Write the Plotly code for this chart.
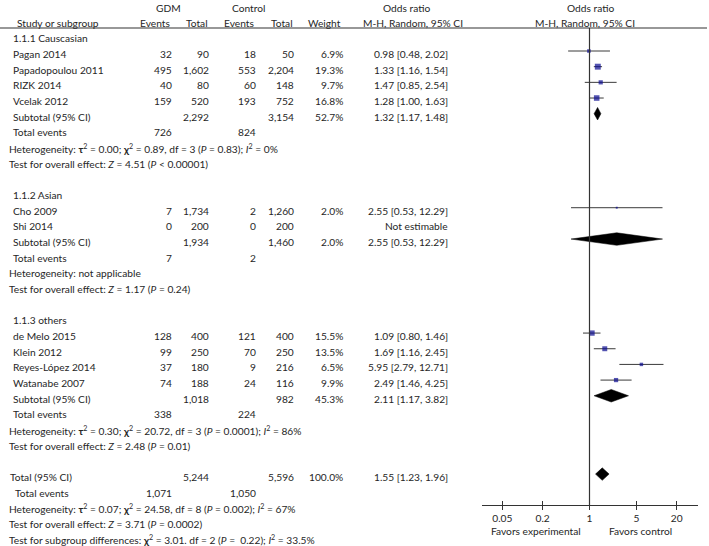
import math
import plotly.graph_objects as go

W, H = 709, 546

# ---------------- data ----------------
group_labels = ["1.1.1 Causcasian", "1.1.2 Asian", "1.1.3 others"]
study_group = [0, 0, 0, 0, 1, 1, 2, 2, 2, 2]
studies = ["Pagan 2014", "Papadopoulou 2011", "RIZK 2014", "Vcelak 2012",
           "Cho 2009", "Shi 2014",
           "de Melo 2015", "Klein 2012", "Reyes-López 2014", "Watanabe 2007"]
gdm_events = [32, 495, 40, 159, 7, 0, 128, 99, 37, 74]
gdm_total = [90, 1602, 80, 520, 1734, 200, 400, 250, 180, 188]
ctl_events = [18, 553, 60, 193, 2, 0, 121, 70, 9, 24]
ctl_total = [50, 2204, 148, 752, 1260, 200, 400, 250, 216, 116]
weight = [6.9, 19.3, 9.7, 16.8, 2.0, None, 15.5, 13.5, 6.5, 9.9]
odds = [0.98, 1.33, 1.47, 1.28, 2.55, None, 1.09, 1.69, 5.95, 2.49]
ci_low = [0.48, 1.16, 0.85, 1.00, 0.53, None, 0.80, 1.16, 2.79, 1.46]
ci_high = [2.02, 1.54, 2.54, 1.63, 12.29, None, 1.46, 2.45, 12.71, 4.25]

sub_gdm_total = [2292, 1934, 1018]
sub_ctl_total = [3154, 1460, 982]
sub_weight = [52.7, 2.0, 45.3]
sub_or = [1.32, 2.55, 2.11]
sub_low = [1.17, 0.53, 1.17]
sub_high = [1.48, 12.29, 3.82]
sub_gdm_events = [726, 7, 338]
sub_ctl_events = [824, 2, 224]
sub_het = [
    "Heterogeneity: <b>τ</b><sup>2</sup> = 0.00; <b>χ</b><sup>2</sup> = 0.89, df = 3 (<i>P</i> = 0.83); <i>I</i><sup>2</sup> = 0%",
    "Heterogeneity: not applicable",
    "Heterogeneity: <b>τ</b><sup>2</sup> = 0.30; <b>χ</b><sup>2</sup> = 20.72, df = 3 (<i>P</i> = 0.0001); <i>I</i><sup>2</sup> = 86%",
]
sub_test = [
    "Test for overall effect: <i>Z</i> = 4.51 (<i>P</i> &lt; 0.00001)",
    "Test for overall effect: <i>Z</i> = 1.17 (<i>P</i> = 0.24)",
    "Test for overall effect: <i>Z</i> = 2.48 (<i>P</i> = 0.01)",
]

tot_gdm_total, tot_ctl_total, tot_weight = 5244, 5596, 100.0
tot_or, tot_low, tot_high = 1.55, 1.23, 1.96
tot_gdm_events, tot_ctl_events = 1071, 1050
tot_het = "Heterogeneity: <b>τ</b><sup>2</sup> = 0.07; <b>χ</b><sup>2</sup> = 24.58, df = 8 (<i>P</i> = 0.002); <i>I</i><sup>2</sup> = 67%"
tot_test = "Test for overall effect: <i>Z</i> = 3.71 (<i>P</i> = 0.0002)"
tot_sub = "Test for subgroup differences: <b>χ</b><sup>2</sup> = 3.01. df = 2 (<i>P</i> =  0.22); <i>I</i><sup>2</sup> = 33.5%"

tick_vals = [0.05, 0.2, 1, 5, 20]
tick_text = ["0.05", "0.2", "1", "5", "20"]

# ---------------- layout helpers ----------------
ROW0, ROWH = 19.67, 15.67          # pixel of row 0, pixel height of a row
TEXT_DY = 3.0 / ROWH               # body text sits a little below the marks


def prow(p):
    return (p - ROW0) / ROWH


X_NAME, X_GE, X_GT, X_CE, X_CT, X_W, X_OR = 11, 174, 211, 258, 296, 345, 450
X_FOOT = 7
TXT = "#262626"
FONT = "Lato"
FS = 10.2

ann = []


def txt(x, r, s, anchor="left", size=FS, dy=TEXT_DY):
    ann.append(dict(x=x, y=r + dy, xref="x", yref="y", text=s, showarrow=False,
                    xanchor=anchor, yanchor="middle",
                    font=dict(family=FONT, size=size, color=TXT)))


def fmt(n):
    return f"{n:,}"


def fmt_or(o, l, h):
    return f"{o:.2f} [{l:.2f}, {h:.2f}]"


# headers
txt(168, prow(8), "GDM", "center", dy=0)
txt(248, prow(8), "Control", "center", dy=0)
txt(406, prow(8), "Odds ratio", "center", dy=0)
txt(590, prow(8), "Odds ratio", "center", dy=0)
hy = prow(22.5)
txt(58, hy, "Study or subgroup", "center", dy=0)
txt(155, hy, "Events", "center", dy=0)
txt(197, hy, "Total", "center", dy=0)
txt(239, hy, "Events", "center", dy=0)
txt(282, hy, "Total", "center", dy=0)
txt(324.5, hy, "Weight", "center", dy=0)
txt(413, hy, "M-H, Random, 95% CI", "center", dy=0)
txt(585, hy, "M-H, Random, 95% CI", "center", dy=0)

ci_x, ci_y = [], []
sq_x, sq_y, sq_s = [], [], []
diamonds = []

r = 1
for g, glabel in enumerate(group_labels):
    txt(X_NAME, r, glabel)
    r += 1
    for i, s in enumerate(studies):
        if study_group[i] != g:
            continue
        txt(X_NAME, r, s)
        txt(X_GE, r, fmt(gdm_events[i]), "right")
        txt(X_GT, r, fmt(gdm_total[i]), "right")
        txt(X_CE, r, fmt(ctl_events[i]), "right")
        txt(X_CT, r, fmt(ctl_total[i]), "right")
        if odds[i] is None:
            txt(X_OR, r, "Not estimable", "right")
        else:
            txt(X_W, r, f"{weight[i]:.1f}%", "right")
            txt(X_OR, r, fmt_or(odds[i], ci_low[i], ci_high[i]), "right")
            ci_x += [ci_low[i], ci_high[i], None]
            ci_y += [r, r, None]
            sq_x.append(odds[i]); sq_y.append(r)
            sq_s.append(1.35 * math.sqrt(weight[i]))
        r += 1
    txt(X_NAME, r, "Subtotal (95% CI)")
    txt(X_GT, r, fmt(sub_gdm_total[g]), "right")
    txt(X_CT, r, fmt(sub_ctl_total[g]), "right")
    txt(X_W, r, f"{sub_weight[g]:.1f}%", "right")
    txt(X_OR, r, fmt_or(sub_or[g], sub_low[g], sub_high[g]), "right")
    diamonds.append((sub_low[g], sub_or[g], sub_high[g], r))
    r += 1
    txt(X_NAME, r, "Total events")
    txt(X_GE, r, fmt(sub_gdm_events[g]), "right")
    txt(X_CE, r, fmt(sub_ctl_events[g]), "right")
    r += 1
    txt(X_FOOT, r, sub_het[g])
    r += 1
    txt(X_FOOT, r, sub_test[g])
    r += 2

# overall
txt(X_FOOT + 1, r, "Total (95% CI)")
txt(X_GT, r, fmt(tot_gdm_total), "right")
txt(X_CT, r, fmt(tot_ctl_total), "right")
txt(X_W, r, f"{tot_weight:.1f}%", "right")
txt(X_OR, r, fmt_or(tot_or, tot_low, tot_high), "right")
diamonds.append((tot_low, tot_or, tot_high, r))
r += 1
txt(13, r, "Total events")
txt(X_GE, r, fmt(tot_gdm_events), "right")
txt(X_CE, r, fmt(tot_ctl_events), "right")
r += 1
txt(X_FOOT, r, tot_het); r += 1
txt(X_FOOT, r, tot_test); r += 1
txt(X_FOOT, r, tot_sub)

AXIS_ROW = prow(505)
HEAD_ROW = prow(28)
txt(536, prow(531), "Favors experimental", "center", dy=0)
txt(640, prow(531), "Favors control", "center", dy=0)

fig = go.Figure()

# CI lines
fig.add_trace(go.Scatter(x=ci_x, y=ci_y, xaxis="x2", yaxis="y", mode="lines",
                         line=dict(color="#3a3a3a", width=1), hoverinfo="skip"))
# study squares
fig.add_trace(go.Scatter(x=sq_x, y=sq_y, xaxis="x2", yaxis="y", mode="markers",
                         marker=dict(symbol="square", size=sq_s, color="#0a0a90",
                                     line=dict(width=0)), hoverinfo="skip"))
# diamonds
DH = 0.4
for lo, mid, hi, rr in diamonds:
    fig.add_trace(go.Scatter(x=[lo, mid, hi, mid, lo], y=[rr, rr - DH, rr, rr + DH, rr],
                             xaxis="x2", yaxis="y", mode="lines", fill="toself",
                             fillcolor="black", line=dict(color="black", width=0.5),
                             hoverinfo="skip"))
# dummy for inner-tick axis
fig.add_trace(go.Scatter(x=[1], y=[AXIS_ROW], xaxis="x3", yaxis="y", mode="markers",
                         marker=dict(size=0.1, opacity=0), hoverinfo="skip"))

# null line at OR = 1
fig.add_shape(type="line", xref="x2", yref="y", x0=1, x1=1, y0=HEAD_ROW, y1=AXIS_ROW,
              line=dict(color="#333", width=1.2))
# header rule
fig.add_shape(type="line", xref="x", yref="y", x0=0, x1=707, y0=HEAD_ROW, y1=HEAD_ROW,
              line=dict(color="#333", width=1.2))

lo_px, hi_px, one_px, dec_px = 482, 698, 589.5, 67.0
xr = [(lo_px - one_px) / dec_px, (hi_px - one_px) / dec_px]
axpos = (H - 505) / H

fig.update_layout(
    width=W, height=H, margin=dict(l=0, r=0, t=0, b=0),
    paper_bgcolor="white", plot_bgcolor="rgba(0,0,0,0)", showlegend=False,
    annotations=ann,
    xaxis=dict(range=[0, W], domain=[0, 1], visible=False, fixedrange=True),
    yaxis=dict(range=[prow(H), prow(0)], domain=[0, 1], visible=False,
               fixedrange=True),
    xaxis2=dict(type="log", range=xr, domain=[lo_px / W, hi_px / W],
                anchor="free", position=axpos, showline=True, linecolor="#333",
                linewidth=1.2, ticks="outside", ticklen=4, tickwidth=1.2,
                tickcolor="#333", tickvals=tick_vals, ticktext=tick_text,
                showgrid=False, zeroline=False,
                tickfont=dict(family=FONT, size=FS, color=TXT)),
    xaxis3=dict(type="log", range=xr, overlaying="x2", anchor="free", position=axpos,
                showline=False, ticks="inside", ticklen=4, tickwidth=1.2,
                tickcolor="#333", tickvals=tick_vals, showticklabels=False,
                showgrid=False, zeroline=False),
)

fig.write_html("out.html", config={"displayModeBar": False},
               post_script="document.body.style.margin='0';document.body.style.overflow='hidden';")
